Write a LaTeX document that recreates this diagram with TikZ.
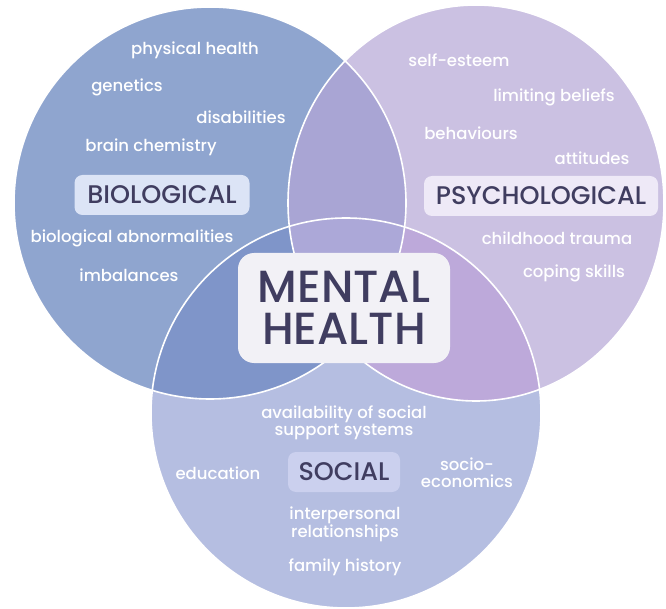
\documentclass[tikz,border=0pt]{standalone}
\usepackage{fontspec}
\setmainfont{Poppins}[UprightFont={* Medium}]
\definecolor{bioblue}{HTML}{8FA5CF}
\definecolor{psylilac}{HTML}{CBC1E2}
\definecolor{socblue}{HTML}{B5BEE1}
\definecolor{biopsy}{HTML}{A9A5D4}
\definecolor{biosoc}{HTML}{7F95C9}
\definecolor{psysoc}{HTML}{BDA9DA}
\definecolor{allthree}{HTML}{ACA8D8}
\definecolor{ink}{HTML}{403D60}
\definecolor{biobox}{HTML}{DCE4F6}
\definecolor{psybox}{HTML}{EEE9F7}
\definecolor{socbox}{HTML}{CBD0EE}
\definecolor{mhbox}{HTML}{F2F1F6}
\tikzset{
  factorlabel/.style={text=white, font=\fontsize{16.5}{17}\selectfont, align=center, inner sep=0pt},
  areabox/.style={rounded corners=8pt, text=ink, font=\fontsize{25.5}{28}\selectfont, inner sep=0pt, minimum height=40pt},
}
\newcommand{\bioshape}{(210,203) circle [radius=196]}
\newcommand{\psyshape}{(476,203) ellipse [x radius=188, y radius=198]}
\newcommand{\socshape}{(346,413) circle [radius=195]}
\begin{document}
\begin{tikzpicture}[x=1pt, y=-1pt]
	\useasboundingbox (0,0) rectangle (666,609);
	%\draw[help lines] (0,0) grid [step=50] (666,609);
	
	% the three areas
	\fill [bioblue] \bioshape;
	\fill [psylilac] \psyshape;
	\fill [socblue] \socshape;
	\begin{scope}
		\clip \bioshape;
		\fill [biopsy] \psyshape;
		\fill [biosoc] \socshape;
	\end{scope}
	\begin{scope}
		\clip \psyshape;
		\fill [psysoc] \socshape;
		\clip \socshape;
		\fill [allthree] \bioshape;
	\end{scope}
	\draw [white, line width=1.6pt] \bioshape;
	\draw [white, line width=1.6pt] \psyshape;
	\draw [white, line width=1.6pt] \socshape;
	
	% biological
	\node [areabox, fill=biobox, minimum width=175pt] (bio) at (162,195) {BIOLOGICAL};
	\node [factorlabel] (physical) at (195,50) {physical health};
	\node [factorlabel] (genetics) at (127,87) {genetics};
	\node [factorlabel] (disabilities) at (241,117) {disabilities};
	\node [factorlabel] (brain) at (151,147) {brain chemistry};
	\node [factorlabel] (abnormal) at (132,238) {biological abnormalities};
	\node [factorlabel] (imbalance) at (129,275) {imbalances};
	
	% psychological
	\node [areabox, fill=psybox, minimum width=234pt] (psy) at (541,196) {PSYCHOLOGICAL};
	\node [factorlabel] (esteem) at (459,60) {self-esteem};
	\node [factorlabel] (beliefs) at (554,97) {limiting beliefs};
	\node [factorlabel] (behaviour) at (471,133) {behaviours};
	\node [factorlabel] (attitude) at (592,158) {attitudes};
	\node [factorlabel] (trauma) at (557,238) {childhood trauma};
	\node [factorlabel] (coping) at (574,273) {coping skills};
	
	% social
	\node [areabox, fill=socbox, minimum width=112pt] (soc) at (344,472) {SOCIAL};
	\node [factorlabel] (support) at (344,423) {availability of social\\support systems};
	\node [factorlabel] (education) at (218,473) {education};
	\node [factorlabel] (economics) at (467,473) {socio-\\economics};
	\node [factorlabel] (relation) at (345,524) {interpersonal\\relationships};
	\node [factorlabel] (family) at (345,567) {family history};
	
	% centre
	\node [fill=mhbox, rounded corners=16pt, minimum width=212pt, minimum height=110pt,
		text=ink, font=\fontsize{45}{42}\selectfont, align=center, inner sep=0pt]
		(mental) at (344,308) {MENTAL\\HEALTH};
\end{tikzpicture}
\end{document}
